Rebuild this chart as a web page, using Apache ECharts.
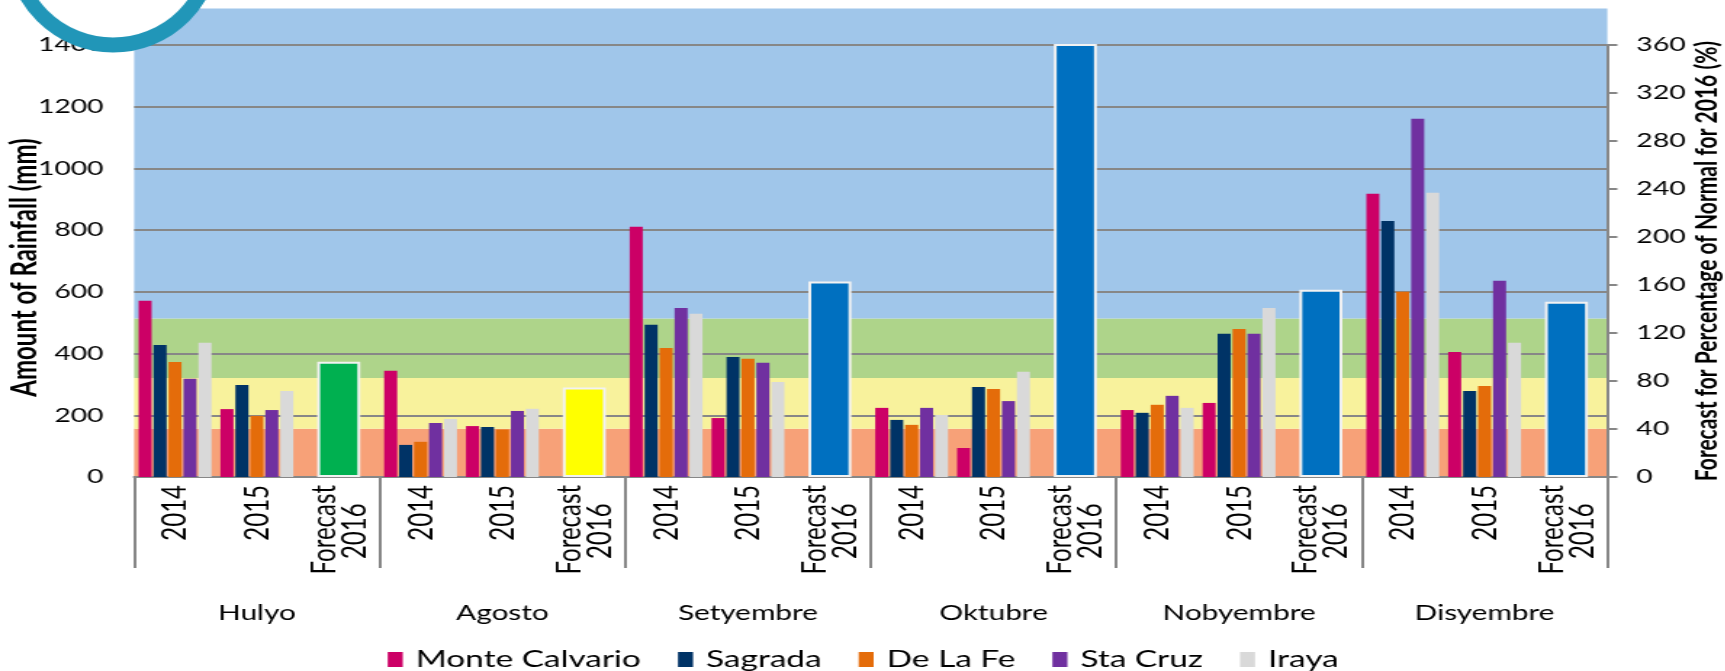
<!DOCTYPE html>
<html>
<head>
<meta charset="utf-8">
<script src="https://cdn.jsdelivr.net/npm/echarts/dist/echarts.min.js"></script>
<style>
  html, body { margin: 0; padding: 0; background: #fff; overflow: hidden; }
  #main { height: 671px; transform-origin: 0 0; }
</style>
</head>
<body>
<div id="main"></div>
<script>
// the picture is a horizontally stretched chart, so draw narrow and stretch
var K = 1.45;
var W = 1725 / K;

var months = ['Hulyo', 'Agosto', 'Setyembre', 'Oktubre', 'Nobyembre', 'Disyembre'];
var subLabels = ['2014', '2015', 'Forecast\n2016'];
var stationNames = ['Monte Calvario', 'Sagrada', 'De La Fe', 'Sta Cruz', 'Iraya'];
var stationColors = ['#CC0066', '#003366', '#E46C0A', '#7030A0', '#D9D9D9'];

// rainfall (mm), per month: 2014, 2015
var monteCalvario = [571, 220, 344, 165, 811, 191, 224, 94, 217, 240, 918, 405];
var sagrada       = [428, 298, 104, 162, 493, 389, 185, 292, 208, 464, 830, 279];
var deLaFe        = [373, 198, 114, 154, 418, 383, 169, 285, 234, 480, 600, 295];
var staCruz       = [318, 217, 175, 214, 548, 370, 224, 246, 263, 464, 1161, 636];
var iraya         = [435, 279, 188, 221, 529, 308, 201, 341, 224, 548, 921, 435];
var stationValues = [monteCalvario, sagrada, deLaFe, staCruz, iraya];

// forecast 2016, percentage of normal (right axis)
var forecastPct = [96, 74.5, 163, 365, 156, 146];
var forecastColors = ['#00B050', '#FFFF00', '#0070C0', '#0070C0', '#0070C0', '#0070C0'];

// background bands, upper edges in mm
var bandEdges = [156, 321, 514, 1518];
var bandColors = ['#F7A178', '#F8F29C', '#AED48A', '#A0C6EA'];

var leftTicks = [0, 1400, 200];
var rightTicks = [0, 360, 40];

var grey = '#878787';

var dom = document.getElementById('main');
dom.style.width = W + 'px';
dom.style.transform = 'scaleX(' + K + ')';
var chart = echarts.init(dom, null, { width: W, height: 671 });

var categories = [];
months.forEach(function (m) {
  subLabels.forEach(function (s) { categories.push(m + '|' + s); });
});

var series = [];

bandEdges.forEach(function (e, i) {
  series.push({
    type: 'bar',
    xAxisIndex: 3,
    yAxisIndex: 0,
    stack: 'band',
    barWidth: '100%',
    z: -1,
    clip: false,
    silent: true,
    itemStyle: { color: bandColors[i] },
    data: [e - (i ? bandEdges[i - 1] : 0)]
  });
});

stationNames.forEach(function (name, s) {
  var vals = stationValues[s];
  var data = [];
  for (var m = 0; m < months.length; m++) {
    data.push(vals[2 * m], vals[2 * m + 1], '-');
  }
  series.push({
    name: name,
    type: 'bar',
    xAxisIndex: 0,
    yAxisIndex: 0,
    barWidth: 13 / K,
    barGap: '15%',
    itemStyle: { color: stationColors[s] },
    data: data
  });
});

var fData = [];
forecastPct.forEach(function (v, m) {
  fData.push('-', '-', { value: v, itemStyle: { color: forecastColors[m] } });
});
series.push({
  name: 'Forecast',
  type: 'bar',
  xAxisIndex: 2,
  yAxisIndex: 1,
  barWidth: 43 / K,
  itemStyle: { borderColor: '#F2F2F2', borderWidth: 2 },
  data: fData
});

function plain(v) { return String(v); }

var option = {
  animation: false,
  textStyle: { fontFamily: 'Lato', color: '#000' },
  grid: { left: 134 / K, right: 119 / K, top: 45, bottom: 194, containLabel: false, outerBoundsMode: 'none' },
  legend: {
    data: stationNames,
    left: 'center',
    top: 643,
    icon: 'rect',
    itemWidth: 15 / K,
    itemHeight: 15,
    itemGap: 37 / K,
    textStyle: { fontFamily: 'Lato', fontSize: 23, color: '#000', padding: [0, 0, 0, 4] }
  },
  xAxis: [
    {
      type: 'category',
      data: categories,
      position: 'bottom',
      axisLine: { lineStyle: { color: grey, width: 2 } },
      axisTick: { show: false },
      axisLabel: {
        interval: 0,
        rotate: 90,
        margin: 8,
        fontSize: 24,
        lineHeight: 21,
        color: '#000',
        formatter: function (v) {
          var lines = v.split('|')[1].split('\n');
          if (lines.length > 1) lines[1] = lines[1] + '\u00a0\u00a0\u00a0';
          return lines.join('\n');
        }
      }
    },
    {
      type: 'category',
      data: months,
      position: 'bottom',
      axisLine: { show: false },
      axisTick: { show: true, length: 91, lineStyle: { color: grey, width: 2 } },
      axisLabel: { interval: 0, margin: 126, fontSize: 20.5, color: '#000' }
    },
    { type: 'category', data: categories, position: 'bottom', show: false },
    { type: 'category', data: [''], position: 'bottom', show: false }
  ],
  yAxis: [
    {
      type: 'value',
      min: leftTicks[0],
      max: leftTicks[1],
      interval: leftTicks[2],
      name: 'Amount of Rainfall (mm)',
      nameLocation: 'middle',
      nameRotate: 90,
      nameGap: 63,
      nameMoveOverlap: false,
      nameTextStyle: { fontFamily: 'Lato', fontWeight: 'bold', fontSize: 24, color: '#000', padding: [0, 13, 0, 0] },
      axisLine: { show: false },
      axisTick: { show: false },
      axisLabel: { fontSize: 19.5, margin: 21, color: '#000', formatter: plain },
      splitLine: { lineStyle: { color: grey, width: 2 } }
    },
    {
      type: 'value',
      position: 'right',
      min: rightTicks[0],
      max: rightTicks[1],
      interval: rightTicks[2],
      name: 'Forecast for Percentage of Normal for 2016 (%)',
      nameLocation: 'middle',
      nameRotate: 90,
      nameGap: 58,
      nameMoveOverlap: false,
      nameTextStyle: { fontFamily: 'Lato', fontWeight: 'bold', fontSize: 21, color: '#000' },
      axisLine: { show: true, lineStyle: { color: grey, width: 2 } },
      axisTick: { show: true, length: 10 / K, lineStyle: { color: grey, width: 2 } },
      axisLabel: { fontSize: 19.5, margin: 20, color: '#000', formatter: plain },
      splitLine: { show: false }
    }
  ],
  graphic: [
    {
      type: 'circle',
      x: 113 / K,
      y: -55,
      scaleX: 1 / K,
      z: 100,
      shape: { cx: 0, cy: 0, r: 100 },
      style: { fill: '#fff', stroke: '#2196B8', lineWidth: 15 }
    }
  ],
  series: series
};

chart.setOption(option);
</script>
</body>
</html>
